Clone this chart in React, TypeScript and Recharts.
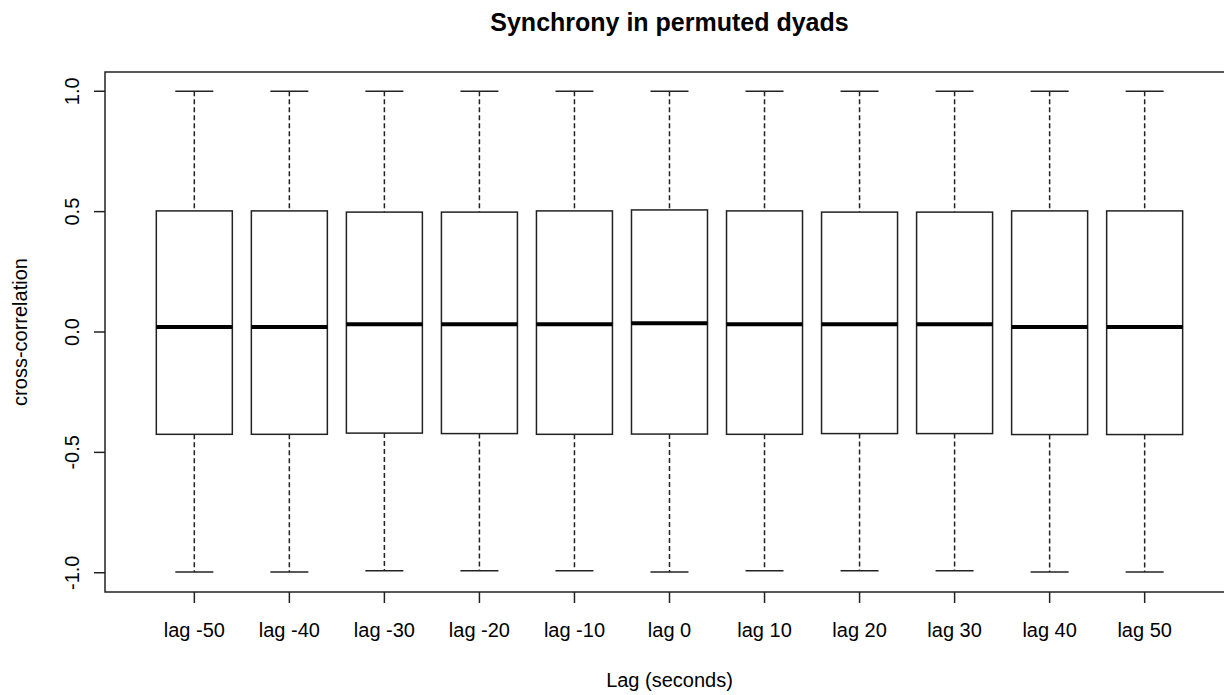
import React from "react";
import { ComposedChart, Bar, XAxis, YAxis, ReferenceArea, Label } from "recharts";

const lagLabels = ["lag -50", "lag -40", "lag -30", "lag -20", "lag -10", "lag 0", "lag 10", "lag 20", "lag 30", "lag 40", "lag 50"];
const whiskerLow = [-0.997, -0.997, -0.992, -0.992, -0.992, -0.997, -0.992, -0.992, -0.992, -0.997, -0.997];
const quartile1 = [-0.425, -0.425, -0.42, -0.422, -0.425, -0.424, -0.425, -0.422, -0.422, -0.426, -0.426];
const medians = [0.021, 0.021, 0.032, 0.032, 0.032, 0.036, 0.032, 0.032, 0.032, 0.021, 0.021];
const quartile3 = [0.503, 0.503, 0.498, 0.498, 0.503, 0.507, 0.503, 0.498, 0.498, 0.503, 0.503];
const whiskerHigh = [1.0, 1.0, 1.0, 1.0, 1.0, 1.0, 1.0, 1.0, 1.0, 1.0, 1.0];
const yTicks = [-1, -0.5, 0, 0.5, 1];

const data = lagLabels.map((label, i) => ({
  x: i + 1,
  label,
  min: whiskerLow[i],
  q1: quartile1[i],
  median: medians[i],
  q3: quartile3[i],
  max: whiskerHigh[i],
  range: [whiskerLow[i], whiskerHigh[i]],
}));

const FONT = "'Liberation Sans', Arial, Helvetica, sans-serif";
const LINE = "#222";

const BoxShape = (props: any) => {
  const { x, y, width, height, payload } = props;
  if (payload == null) return null;
  const top = Math.min(y, y + height);
  const h = Math.abs(height);
  const { min, q1, median, q3, max } = payload;
  const k = h / (max - min);
  const py = (v: number) => top + (max - v) * k;
  const cx = x + width / 2;
  const cap = width / 4;
  return (
    <g>
      <line x1={cx} x2={cx} y1={py(max)} y2={py(q3)} stroke={LINE} strokeWidth={1.5} strokeDasharray="5 3" />
      <line x1={cx} x2={cx} y1={py(q1)} y2={py(min)} stroke={LINE} strokeWidth={1.5} strokeDasharray="5 3" />
      <line x1={cx - cap} x2={cx + cap} y1={py(max)} y2={py(max)} stroke={LINE} strokeWidth={1.5} />
      <line x1={cx - cap} x2={cx + cap} y1={py(min)} y2={py(min)} stroke={LINE} strokeWidth={1.5} />
      <rect x={x} y={py(q3)} width={width} height={py(q1) - py(q3)} fill="#fff" stroke={LINE} strokeWidth={1.5} />
      <line x1={x} x2={x + width} y1={py(median)} y2={py(median)} stroke="#000" strokeWidth={4} />
    </g>
  );
};

const YTick = (props: any) => {
  const { x, y, payload } = props;
  return (
    <text x={x} y={y} transform={`rotate(-90 ${x} ${y})`} textAnchor="middle" fontSize={20} fontFamily={FONT} fill="#000">
      {Number(payload.value).toFixed(1)}
    </text>
  );
};

export default function App() {
  return (
    <div style={{ position: "absolute", left: 0, top: 0, width: 1224, height: 695, overflow: "hidden", background: "#fff" }}>
      <div
        style={{
          position: "absolute",
          left: 0,
          width: 1339,
          top: 10,
          textAlign: "center",
          fontFamily: FONT,
          fontWeight: "bold",
          fontSize: 25,
          lineHeight: "25px",
          color: "#000",
        }}
      >
        Synchrony in permuted dyads
      </div>
      <ComposedChart width={1260} height={695} data={data} margin={{ top: 72, right: 26, bottom: 0, left: 0 }} barCategoryGap="10%">
        <XAxis
          dataKey="x"
          type="number"
          domain={[0.06, 11.94]}
          ticks={data.map((d) => d.x)}
          tickFormatter={(v: number) => lagLabels[v - 1] ?? ""}
          interval={0}
          height={103}
          axisLine={false}
          tickSize={11}
          tickMargin={20}
          tickLine={{ stroke: LINE, strokeWidth: 1.5 }}
          tick={{ fill: "#000", fontSize: 20, fontFamily: FONT }}
          allowDataOverflow
        >
          <Label value="Lag (seconds)" position="insideBottom" offset={8} style={{ fill: "#000", fontSize: 20, fontFamily: FONT }} />
        </XAxis>
        <YAxis
          type="number"
          domain={[-1.08, 1.08]}
          ticks={yTicks}
          width={105}
          axisLine={false}
          tickSize={11}
          tickMargin={15}
          tickLine={{ stroke: LINE, strokeWidth: 1.5 }}
          tick={<YTick />}
          allowDataOverflow
        >
          <Label
            value="cross-correlation"
            angle={-90}
            position="insideLeft"
            offset={20}
            style={{ fill: "#000", fontSize: 20, fontFamily: FONT, textAnchor: "middle" }}
          />
        </YAxis>
        <Bar dataKey="range" shape={<BoxShape />} isAnimationActive={false} />
        <ReferenceArea x1={0.06} x2={11.94} y1={-1.08} y2={1.08} fill="none" fillOpacity={0} stroke={LINE} strokeWidth={1.5} ifOverflow="visible" />
      </ComposedChart>
    </div>
  );
}
